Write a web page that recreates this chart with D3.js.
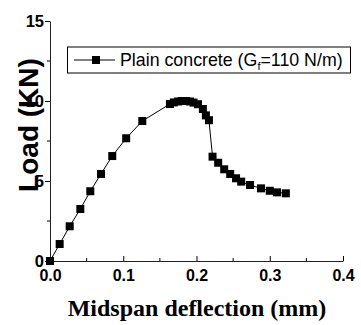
<!DOCTYPE html>
<html>
<head>
<meta charset="utf-8">
<script src="https://cdn.jsdelivr.net/npm/d3@7"></script>
<style>
  body { margin: 0; background: #fff; }
  svg { display: block; }
</style>
</head>
<body>
<div id="chart"></div>
<script>
// deflection (mm) vs load (kN)
var deflection = [0, 0.0132, 0.0269, 0.0414, 0.055, 0.0696, 0.085, 0.104, 0.126,
  0.1637, 0.169, 0.175, 0.180, 0.1855, 0.191, 0.196, 0.202, 0.2087, 0.2128, 0.217,
  0.2219, 0.2296, 0.2378, 0.246, 0.254, 0.261, 0.273, 0.288, 0.300, 0.310, 0.322];
var load = [0, 1.06, 2.17, 3.25, 4.36, 5.44, 6.56, 7.67, 8.75,
  9.81, 9.91, 9.97, 10.0, 10.0, 9.97, 9.9, 9.8, 9.5, 9.1, 8.8,
  6.52, 6.14, 5.73, 5.44, 5.17, 4.96, 4.75, 4.54, 4.39, 4.29, 4.23];
var xTicks = [0, 0.1, 0.2, 0.3, 0.4];
var yTicks = [0, 5, 10, 15];
var xMinor = [0.05, 0.15, 0.25, 0.35];
var yMinor = [2.5, 7.5, 12.5];
var seriesName = "Plain concrete (G";

var W = 361, H = 325;
var svg = d3.select('#chart').append('svg').attr('width', W).attr('height', H);

var x = d3.scaleLinear().domain([0, 0.4]).range([50, 343]),
  y = d3.scaleLinear().domain([0, 15]).range([261, 21]);

var sans = "'Liberation Sans', Arial, sans-serif";

// axes
var xAxis = svg.append('g').attr('transform', 'translate(0,' + y(0) + ')')
  .call(d3.axisBottom(x).tickValues(xTicks).tickSizeInner(-5).tickSizeOuter(0)
    .tickFormat(d3.format('.1f')));
xAxis.selectAll('.minor').data(xMinor).enter().append('line').attr('class', 'minor')
  .attr('x1', function(d){ return x(d); }).attr('x2', function(d){ return x(d); })
  .attr('y1', 0).attr('y2', -3).attr('stroke', '#000');
xAxis.selectAll('text').attr('y', 9).attr('dy', '0.71em')
  .attr('font-family', sans).attr('font-size', 16).attr('font-weight', 'bold')
  .attr('fill', '#000');

var yAxis = svg.append('g').attr('transform', 'translate(' + x(0) + ',0)')
  .call(d3.axisLeft(y).tickValues(yTicks).tickSizeInner(5).tickSizeOuter(0)
    .tickFormat(d3.format('d')));
yAxis.selectAll('.minor').data(yMinor).enter().append('line').attr('class', 'minor')
  .attr('y1', function(d){ return y(d); }).attr('y2', function(d){ return y(d); })
  .attr('x1', 0).attr('x2', -3).attr('stroke', '#000');
yAxis.selectAll('text').attr('x', -6)
  .attr('font-family', sans).attr('font-size', 16.5).attr('font-weight', 'bold')
  .attr('fill', '#000');
svg.selectAll('.domain').attr('stroke', '#222');

// axis titles
svg.append('text').attr('transform', 'translate(38,125) rotate(-90)')
  .attr('text-anchor', 'middle').attr('font-family', sans).attr('font-size', 28)
  .attr('font-weight', 'bold').attr('fill', '#000').text('Load (KN)');
svg.append('text').attr('x', 197).attr('y', 316).attr('text-anchor', 'middle')
  .attr('font-family', "'Liberation Serif', 'Times New Roman', serif")
  .attr('font-size', 24).attr('font-weight', 'bold')
  .attr('fill', '#000').text('Midspan deflection (mm)');

// data
var pts = deflection.map(function(d, i){ return [d, load[i]]; });
svg.append('path').datum(pts)
  .attr('d', d3.line().x(function(d){ return x(d[0]); }).y(function(d){ return y(d[1]); }))
  .attr('fill', 'none').attr('stroke', '#000').attr('stroke-width', 1);
svg.selectAll('.pt').data(pts).enter().append('rect').attr('class', 'pt')
  .attr('x', function(d){ return x(d[0]) - 4; }).attr('y', function(d){ return y(d[1]) - 4; })
  .attr('width', 8).attr('height', 8).attr('fill', '#000');

// legend
var lg = svg.append('g');
lg.append('rect').attr('x', 67.5).attr('y', 47).attr('width', 283).attr('height', 26)
  .attr('fill', '#fff').attr('stroke', '#000').attr('stroke-width', 1);
lg.append('line').attr('x1', 74).attr('x2', 115).attr('y1', 60).attr('y2', 60)
  .attr('stroke', '#000');
lg.append('rect').attr('x', 92).attr('y', 56).attr('width', 8).attr('height', 8).attr('fill', '#000');
var lt = lg.append('text').attr('x', 120).attr('y', 65.5)
  .attr('font-family', sans).attr('font-size', 17.8).attr('fill', '#000');
lt.append('tspan').text(seriesName);
lt.append('tspan').attr('dy', 4).attr('font-size', 11).text('f');
lt.append('tspan').attr('dy', -4).text('=110 N/m)');
</script>
</body>
</html>
